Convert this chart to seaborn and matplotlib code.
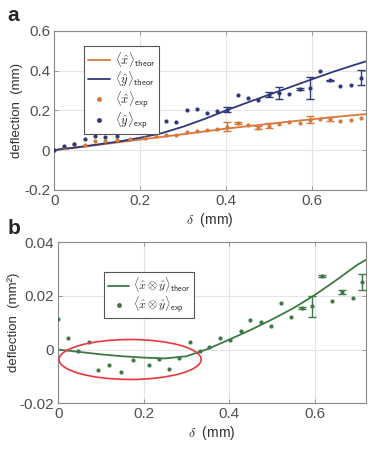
import numpy as np
import pandas as pd
import matplotlib
matplotlib.use('Agg')
import matplotlib.pyplot as plt
import seaborn as sns
from matplotlib.patches import Ellipse
from matplotlib.lines import Line2D

# ---- data ----
delta = [0, 0.023, 0.046, 0.071, 0.094, 0.119, 0.147, 0.176, 0.212, 0.236,
         0.26, 0.283, 0.308, 0.331, 0.354, 0.378, 0.402, 0.427, 0.45, 0.474,
         0.498, 0.522, 0.546, 0.57, 0.594, 0.618, 0.641, 0.665, 0.689, 0.712]

x_exp = [0, 0.016, 0.028, 0.027, 0.047, 0.048, 0.053, 0.057, 0.063, 0.072,
         0.075, 0.077, 0.09, 0.095, 0.1, 0.107, 0.118, 0.137, 0.128, 0.113,
         0.123, 0.133, 0.142, 0.137, 0.153, 0.158, 0.158, 0.148, 0.15, 0.162]
x_err = [0, 0, 0, 0, 0, 0, 0, 0, 0, 0,
         0, 0, 0, 0, 0, 0, 0.021, 0.005, 0, 0.006,
         0.014, 0, 0, 0, 0.017, 0, 0.01, 0, 0, 0]

y_exp = [0, 0.02, 0.032, 0.057, 0.07, 0.064, 0.072, 0.101, 0.107, 0.164,
         0.144, 0.141, 0.2, 0.207, 0.185, 0.194, 0.204, 0.276, 0.262, 0.252,
         0.278, 0.286, 0.282, 0.307, 0.311, 0.397, 0.35, 0.322, 0.327, 0.365]
y_err = [0, 0, 0, 0, 0, 0, 0, 0, 0, 0,
         0, 0, 0, 0, 0, 0, 0.012, 0, 0, 0,
         0.012, 0.03, 0, 0.006, 0.056, 0, 0.004, 0, 0, 0.04]

xy_exp = [0.0113, 0.0044, -0.0006, 0.0027, -0.0078, -0.0056, -0.0082, -0.0039, -0.0056, -0.0037,
          -0.0072, -0.003, 0.0029, -0.0007, 0.0009, 0.0043, 0.0034, 0.0071, 0.011, 0.0102,
          0.0088, 0.0174, 0.0122, 0.0155, 0.0161, 0.0274, 0.018, 0.0216, 0.0193, 0.0252]
xy_err = [0, 0, 0, 0, 0, 0, 0, 0, 0, 0,
          0, 0, 0, 0, 0, 0, 0, 0, 0, 0,
          0, 0, 0, 0.0005, 0.0039, 0.0004, 0, 0.0008, 0, 0.003]

delta_th = [0, 0.05, 0.1, 0.15, 0.2, 0.25, 0.3, 0.35, 0.4, 0.45, 0.5, 0.55, 0.6, 0.65, 0.7, 0.724]
x_theor = [0, 0.012, 0.025, 0.039, 0.053, 0.066, 0.08, 0.094, 0.108, 0.12, 0.132, 0.144, 0.155, 0.166, 0.176, 0.181]
y_theor = [0, 0.013, 0.028, 0.043, 0.062, 0.085, 0.118, 0.157, 0.2, 0.24, 0.279, 0.318, 0.357, 0.395, 0.43, 0.446]
xy_theor = [0, -0.0009, -0.0018, -0.0025, -0.003, -0.0033, -0.0025, 0.0002, 0.0037, 0.0073,
            0.0112, 0.0154, 0.0203, 0.0258, 0.0316, 0.0338]

ORANGE = '#D8773A'
BLUE = '#2F3878'
GREEN = '#3B7A45'
RED = '#E8383D'

sns.set_theme(style='whitegrid')
plt.rcParams['font.family'] = ['Liberation Sans', 'DejaVu Sans']
plt.rcParams['mathtext.fontset'] = 'cm'

df_exp = pd.DataFrame({'delta': delta, 'x': x_exp, 'y': y_exp, 'xy': xy_exp})
df_th = pd.DataFrame({'delta': delta_th, 'x': x_theor, 'y': y_theor, 'xy': xy_theor})

fig = plt.figure(figsize=(3.74, 4.53), dpi=100)
ax1 = fig.add_axes([0.145, 0.581, 0.833, 0.351])
ax2 = fig.add_axes([0.156, 0.110, 0.822, 0.355])


def style_axes(ax):
    ax.set_facecolor('white')
    for s in ax.spines.values():
        s.set_color('#8a8a8a')
        s.set_linewidth(0.8)
    ax.grid(True, color='#e4e4e4', linewidth=0.8)
    ax.tick_params(direction='in', length=3, width=0.6, color='#8a8a8a',
                   labelsize=11, labelcolor='#505050', top=True, right=True,
                   left=True, bottom=True, pad=3)
    ax.set_xticks([0, 0.2, 0.4, 0.6])
    ax.set_xticklabels(['0', '0.2', '0.4', '0.6'])


def add_errorbars(ax, df, col, err, color):
    m = np.array(err) > 0
    ax.errorbar(df['delta'][m], df[col][m], yerr=np.array(err)[m], fmt='none',
                ecolor=color, elinewidth=1.0, capsize=2.8, capthick=1.0, zorder=3)


def make_legend(ax, handles, labels, anchor, size):
    leg = ax.legend(handles, labels, loc='upper left', bbox_to_anchor=anchor, borderaxespad=0,
                    fontsize=size, frameon=True, fancybox=False, framealpha=1,
                    handlelength=1.8, labelspacing=0.02, borderpad=0.3, handletextpad=0.35)
    leg.get_frame().set_edgecolor('#555555')
    leg.get_frame().set_linewidth(0.8)
    leg.set_zorder(10)
    return leg


# ---- panel a ----
style_axes(ax1)
sns.lineplot(data=df_th, x='delta', y='x', color=ORANGE, lw=1.3, ax=ax1, zorder=2)
sns.lineplot(data=df_th, x='delta', y='y', color=BLUE, lw=1.3, ax=ax1, zorder=2)
sns.scatterplot(data=df_exp, x='delta', y='x', color=ORANGE, s=9, linewidth=0, ax=ax1, zorder=4)
sns.scatterplot(data=df_exp, x='delta', y='y', color=BLUE, s=9, linewidth=0, ax=ax1, zorder=4)
add_errorbars(ax1, df_exp, 'x', x_err, ORANGE)
add_errorbars(ax1, df_exp, 'y', y_err, BLUE)
ax1.set_xlim(0, 0.724)
ax1.set_ylim(-0.2, 0.6)
ax1.set_yticks([-0.2, 0, 0.2, 0.4, 0.6])
ax1.set_yticklabels(['-0.2', '0', '0.2', '0.4', '0.6'])
ax1.set_xlabel(r'$\delta$  (mm)', fontsize=10, color='#303030', labelpad=2)
ax1.set_ylabel('deflection  (mm)', fontsize=9.5, color='#303030', labelpad=1)

h1 = [Line2D([], [], color=ORANGE, lw=1.3),
      Line2D([], [], color=BLUE, lw=1.3),
      Line2D([], [], color=ORANGE, marker='o', ms=2.5, lw=0),
      Line2D([], [], color=BLUE, marker='o', ms=2.5, lw=0)]
l1 = [r'$\langle\hat{x}\rangle_{\mathsf{theor}}$', r'$\langle\hat{y}\rangle_{\mathsf{theor}}$',
      r'$\langle\hat{x}\rangle_{\mathsf{exp}}$', r'$\langle\hat{y}\rangle_{\mathsf{exp}}$']
make_legend(ax1, h1, l1, (0.096, 0.904), 9)

# ---- panel b ----
style_axes(ax2)
sns.lineplot(data=df_th, x='delta', y='xy', color=GREEN, lw=1.3, ax=ax2, zorder=2)
sns.scatterplot(data=df_exp, x='delta', y='xy', color=GREEN, s=9, linewidth=0, ax=ax2, zorder=4)
add_errorbars(ax2, df_exp, 'xy', xy_err, GREEN)
ax2.add_patch(Ellipse((0.168, -0.0037), 0.333, 0.0149, fill=False, edgecolor=RED, lw=1.2, zorder=5))
ax2.set_xlim(0, 0.72)
ax2.set_ylim(-0.02, 0.04)
ax2.set_yticks([-0.02, 0, 0.02, 0.04])
ax2.set_yticklabels(['-0.02', '0', '0.02', '0.04'])
ax2.set_xlabel(r'$\delta$  (mm)', fontsize=10, color='#303030', labelpad=2)
ax2.set_ylabel('deflection  (mm²)', fontsize=9.5, color='#303030', labelpad=0)

h2 = [Line2D([], [], color=GREEN, lw=1.3),
      Line2D([], [], color=GREEN, marker='o', ms=2.5, lw=0)]
l2 = [r'$\langle\hat{x}\otimes\hat{y}\rangle_{\mathsf{theor}}$',
      r'$\langle\hat{x}\otimes\hat{y}\rangle_{\mathsf{exp}}$']
make_legend(ax2, h2, l2, (0.15, 0.817), 8.5)

fig.text(0.02, 0.987, 'a', fontsize=15, fontweight='bold', va='top', ha='left')
fig.text(0.02, 0.516, 'b', fontsize=15, fontweight='bold', va='top', ha='left')

fig.savefig('out.png', dpi=100)
